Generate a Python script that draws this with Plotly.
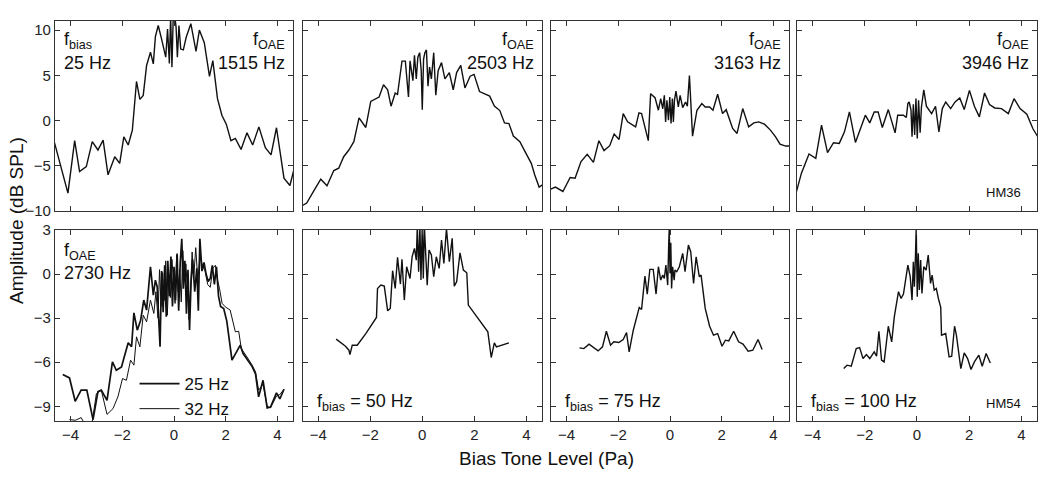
import plotly.graph_objects as go
from plotly.subplots import make_subplots

# top row: f_bias = 25 Hz, four f_OAE values
top1_x = [-4.62, -4.10, -3.84, -3.65, -3.39, -3.16, -2.94, -2.74, -2.55, -2.29,
          -2.10, -1.94, -1.77, -1.61, -1.45, -1.32, -1.19, -1.06, -0.91, -0.80,
          -0.72, -0.61, -0.48, -0.41, -0.32, -0.25, -0.18, -0.13, -0.08, -0.03,
          0.03, 0.08, 0.13, 0.19, 0.26, 0.36, 0.47, 0.65, 0.85, 0.98,
          1.17, 1.37, 1.50, 1.68, 1.85, 2.02, 2.20, 2.37, 2.59, 2.82,
          3.04, 3.28, 3.53, 3.75, 3.96, 4.25, 4.48, 4.63]
top1_y = [-2.45, -8.02, -2.23, -5.64, -5.09, -2.34, -3.26, -2.16, -6.0, -4.0,
          -4.73, -1.8, -2.71, -1.06, 4.32, 2.34, 2.78, 6.08, 7.55, 6.26,
          9.27, 10.5, 9.0, 8.1, 7.0, 10.1, 6.3, 11.5, 5.9, 11.5,
          11.5, 10.3, 7.0, 10.5, 7.9, 7.8, 9.2, 10.7, 7.65, 10.0,
          8.6, 4.87, 6.63, 2.42, 0.59, -0.40, -2.23, -1.98, -3.19, -1.36,
          -2.71, -0.70, -3.0, -3.8, -0.8, -6.37, -7.18, -5.46]

top2_x = [-4.66, -4.44, -4.18, -3.90, -3.66, -3.40, -3.21, -3.02, -2.82, -2.63,
          -2.43, -2.17, -1.98, -1.66, -1.49, -1.33, -1.20, -1.04, -0.95, -0.78,
          -0.65, -0.53, -0.47, -0.36, -0.30, -0.23, -0.17, -0.10, -0.04, 0.0,
          0.05, 0.10, 0.16, 0.22, 0.28, 0.35, 0.44, 0.52, 0.61, 0.74,
          0.87, 1.04, 1.19, 1.32, 1.48, 1.64, 1.84, 1.99, 2.20, 2.38,
          2.59, 2.77, 2.98, 3.16, 3.33, 3.50, 3.75, 3.97, 4.19, 4.32,
          4.49, 4.62]
top2_y = [-9.49, -9.12, -7.84, -6.48, -7.2, -5.53, -5.27, -4.0, -3.26, -2.34,
          0.29, -0.77, 2.12, 2.6, 3.96, 3.4, 1.58, 3.04, 2.9, 6.56,
          6.56, 2.6, 6.6, 4.4, 7.2, 4.6, 7.0, 7.5, 5.5, 1.2,
          6.8, 7.5, 7.8, 3.8, 5.9, 4.6, 7.5, 2.8, 5.5, 6.4,
          4.6, 5.3, 3.4, 5.3, 6.1, 3.6, 4.9, 5.1, 3.2, 3.0,
          2.7, 1.6, 1.1, -0.26, -0.33, -1.72, -2.34, -3.55, -4.73, -6.0,
          -7.36, -7.1]

top3_x = [-4.62, -4.43, -4.14, -3.86, -3.67, -3.44, -3.20, -2.96, -2.75, -2.55,
          -2.33, -2.16, -1.97, -1.81, -1.64, -1.33, -1.20, -1.10, -0.84, -0.75,
          -0.58, -0.45, -0.36, -0.28, -0.22, -0.17, -0.12, -0.06, -0.01, 0.04,
          0.09, 0.13, 0.17, 0.23, 0.32, 0.39, 0.49, 0.60, 0.67, 0.75,
          0.87, 1.04, 1.23, 1.36, 1.53, 1.66, 1.84, 2.03, 2.17, 2.42,
          2.59, 2.81, 3.04, 3.24, 3.43, 3.65, 3.88, 4.08, 4.25, 4.47,
          4.64]
top3_y = [-7.58, -7.36, -7.84, -6.3, -6.37, -4.54, -3.74, -4.62, -2.23, -3.33,
          -2.78, -1.5, -2.09, 0.77, -0.15, -0.7, 0.84, 0.77, -2.23, 2.97,
          2.53, 1.14, 2.42, 1.3, 2.78, -0.15, 2.23, 0.04, 2.6, -0.33,
          2.42, -0.15, 2.23, 3.26, 1.5, 2.78, 1.43, 2.05, 1.58, 4.98,
          -1.72, 1.14, 1.87, 1.5, 1.5, 1.14, 2.9, 0.77, 1.2, -0.88,
          -1.43, 1.32, -0.7, -0.26, -0.15, -0.4, -1.06, -1.8, -2.6, -2.82,
          -2.82]

top4_x = [-4.63, -4.43, -4.14, -3.88, -3.66, -3.43, -3.20, -2.98, -2.78, -2.59,
          -2.36, -2.16, -1.98, -1.81, -1.64, -1.49, -1.33, -1.10, -0.84, -0.74,
          -0.52, -0.41, -0.35, -0.30, -0.23, -0.19, -0.14, -0.09, -0.04, 0.01,
          0.06, 0.12, 0.17, 0.26, 0.36, 0.56, 0.71, 0.84, 0.97, 1.10,
          1.29, 1.46, 1.64, 1.81, 2.01, 2.20, 2.39, 2.59, 2.78, 2.98,
          3.24, 3.50, 3.72, 3.95, 4.21, 4.44, 4.63]
top4_y = [-7.95, -5.82, -3.7, -4.18, -0.51, -3.55, -2.45, -2.53, -1.25, 0.95,
          -2.42, -0.88, 0.59, -0.26, 0.95, 0.95, -0.77, 1.21, -1.36, 0.59,
          0.59, 0.33, 1.87, 2.05, 1.14, -1.8, 1.8, -1.61, 2.42, -1.98,
          2.23, -1.36, 1.5, 3.4, 1.58, 0.77, 1.58, -1.25, 1.32, 2.05,
          1.32, 2.05, 2.49, 1.21, 3.33, 1.58, 0.4, 3.04, 1.76, 1.39,
          1.32, 0.77, 2.42, 1.32, 0.7, -0.88, -1.8]

# bottom row: f_OAE = 2730 Hz, four f_bias values
bot1_25_x = [-4.30, -4.04, -3.82, -3.59, -3.37, -3.13, -2.94, -2.81, -2.59, -2.38,
             -2.23, -2.03, -1.94, -1.77, -1.64, -1.55, -1.42, -1.29, -1.17, -1.06,
             -0.91, -0.80, -0.72, -0.65, -0.54, -0.48, -0.42, -0.36, -0.30, -0.24,
             -0.18, -0.12, -0.06, 0.0, 0.06, 0.12, 0.18, 0.24, 0.30, 0.36,
             0.42, 0.48, 0.54, 0.60, 0.66, 0.72, 0.80, 0.88, 0.94, 1.00,
             1.08, 1.16, 1.24, 1.32, 1.40, 1.48, 1.56, 1.64, 1.72, 1.80,
             1.92, 2.04, 2.24, 2.56, 2.67, 2.82, 3.02, 3.15, 3.27, 3.44,
             3.60, 3.73, 3.96, 4.09, 4.25]
bot1_25_y = [-6.84, -7.07, -8.66, -7.9, -7.9, -9.9, -8.0, -7.9, -8.6, -5.98,
             -6.55, -6.32, -5.75, -4.68, -4.95, -2.64, -3.82, -3.14, -1.77, -2.45,
             0.5, -1.43, -0.41, -0.86, -4.95, 0.2, -2.6, 0.6, -2.9, 0.9,
             -1.5, 1.2, -2.2, 0.5, -1.8, 1.4, -2.5, 0.8, 2.4, -1.0,
             0.9, -2.7, 0.3, -3.8, -0.5, 1.0, -1.2, 0.4, -2.5, 2.4,
             0.2, 0.8, 0.0, -0.5, -0.3, 0.6, -0.7, 0.5, -1.5, -2.2,
             -2.34, -3.2, -5.86, -4.84, -5.41, -5.8, -6.3, -6.8, -8.36, -7.23,
             -9.11, -9.05, -8.09, -8.5, -7.84]

bot1_32_x = [-4.04, -3.81, -3.59, -3.42, -3.20, -3.00, -2.81, -2.59, -2.36, -2.17,
             -1.99, -1.84, -1.68, -1.55, -1.45, -1.32, -1.19, -1.06, -0.91, -0.78,
             -0.70, -0.62, -0.56, -0.50, -0.44, -0.38, -0.32, -0.26, -0.20, -0.14,
             -0.08, -0.02, 0.04, 0.10, 0.16, 0.22, 0.28, 0.34, 0.40, 0.46,
             0.52, 0.58, 0.64, 0.70, 0.76, 0.84, 0.92, 1.00, 1.10, 1.20,
             1.30, 1.40, 1.50, 1.60, 1.68, 1.76, 1.86, 1.98, 2.17, 2.37,
             2.50, 2.60, 2.82, 3.02, 3.15, 3.27, 3.44, 3.60, 3.73, 3.96,
             4.09, 4.25]
bot1_32_y = [-9.9, -9.95, -9.77, -10.3, -10.5, -8.14, -7.9, -9.55, -9.16, -8.36,
             -7.11, -7.23, -5.86, -6.2, -4.27, -4.95, -2.8, -3.25, -1.77, -2.68,
             -1.2, -3.0, 0.3, -2.2, 0.1, -1.8, 0.9, -2.8, -0.2, -1.6,
             1.0, -0.6, -2.0, 1.3, -1.2, 0.3, -1.9, 1.6, -0.4, 0.7,
             -1.3, -3.1, -1.0, 1.5, -0.3, 1.8, -0.5, 1.2, 0.6, 0.2,
             -0.7, -0.9, 0.4, 0.6, -0.4, -1.0, -2.0, -2.23, -2.45, -3.93,
             -3.89, -5.07, -5.64, -6.2, -6.66, -7.9, -7.5, -9.0, -9.1, -8.3,
             -8.2, -7.84]

bot2_x = [-3.31, -2.95, -2.82, -2.78, -2.69, -2.50, -2.17, -1.76, -1.72, -1.59,
          -1.46, -1.33, -1.23, -1.14, -1.04, -0.95, -0.84, -0.78, -0.69, -0.60,
          -0.47, -0.39, -0.30, -0.23, -0.19, -0.14, -0.09, -0.05, 0.0, 0.04,
          0.08, 0.13, 0.19, 0.26, 0.35, 0.44, 0.54, 0.65, 0.74, 0.83,
          0.93, 1.04, 1.15, 1.23, 1.32, 1.45, 1.58, 1.71, 1.77, 2.52,
          2.65, 2.77, 2.85, 3.33]
bot2_y = [-4.43, -4.91, -5.18, -5.48, -4.84, -4.84, -4.05, -2.95, -0.98, -0.75,
          -0.82, -2.5, -2.34, 0.23, -0.98, 1.14, -0.68, 1.0, -1.77, 0.5,
          -0.3, 1.18, 1.75, 0.95, 3.3, 0.16, 3.3, -0.41, 3.3, -0.3,
          3.3, 0.95, -0.75, 1.64, 1.3, -0.18, 1.18, 0.39, 2.32, 0.73,
          3.1, 0.84, 2.43, -0.82, -0.52, 1.45, 0.27, 0.09, -2.11, -3.93,
          -5.68, -4.68, -4.95, -4.68]

bot3_x = [-3.50, -3.33, -3.13, -2.78, -2.61, -2.46, -2.30, -2.17, -1.98, -1.81,
          -1.68, -1.58, -1.42, -1.29, -1.19, -1.10, -0.97, -0.88, -0.78, -0.65,
          -0.54, -0.45, -0.36, -0.28, -0.22, -0.16, -0.09, -0.05, -0.03, 0.0,
          0.03, 0.06, 0.10, 0.16, 0.19, 0.26, 0.36, 0.49, 0.58, 0.71,
          0.80, 0.91, 1.01, 1.13, 1.20, 1.36, 1.53, 1.68, 1.84, 2.01,
          2.14, 2.27, 2.46, 2.65, 2.82, 3.02, 3.20, 3.40, 3.56]
bot3_y = [-5.02, -5.07, -4.77, -5.23, -4.95, -3.89, -4.84, -4.61, -4.66, -4.45,
          -3.98, -5.3, -3.82, -3.02, -2.27, -2.41, -0.14, -1.36, 0.32, 0.32,
          -1.36, 0.5, -0.41, -0.07, -0.3, 0.61, -0.75, 2.09, 3.1, 0.05,
          2.14, -0.98, 0.5, -0.41, 0.27, 0.16, 0.5, 1.41, 0.16, 1.98,
          1.52, -0.64, 1.18, -0.18, -0.07, -2.34, -3.55, -4.16, -4.05, -4.91,
          -4.5, -4.55, -3.89, -4.61, -4.77, -5.25, -5.18, -4.45, -5.14]

bot4_x = [-2.81, -2.68, -2.52, -2.33, -2.20, -2.07, -1.94, -1.81, -1.64, -1.55,
          -1.46, -1.36, -1.26, -1.10, -0.97, -0.87, -0.71, -0.61, -0.52, -0.43,
          -0.35, -0.26, -0.19, -0.14, -0.10, -0.06, -0.03, 0.01, 0.05, 0.09,
          0.14, 0.19, 0.26, 0.35, 0.43, 0.52, 0.58, 0.66, 0.74, 0.82,
          0.91, 0.94, 1.10, 1.23, 1.33, 1.44, 1.51, 1.68, 1.81, 1.94,
          2.07, 2.20, 2.37, 2.50, 2.65, 2.81]
bot4_y = [-6.43, -6.2, -6.27, -5.07, -5.0, -5.75, -5.48, -5.75, -5.3, -5.59,
          -3.89, -5.86, -5.98, -3.55, -4.61, -2.91, -1.2, -1.66, -1.36, -0.23,
          0.61, -0.18, -1.77, 0.84, -0.86, 1.18, 3.2, -1.55, 1.41, -1.09,
          0.95, -1.32, 0.5, 0.27, 1.3, -0.64, -0.07, -1.09, -0.98, -1.66,
          -2.27, -4.16, -4.05, -5.64, -5.59, -3.55, -4.16, -6.43, -5.36, -5.75,
          -6.5, -5.98, -5.52, -6.27, -5.41, -6.05]

x_ticks = [-4, -2, 0, 2, 4]
top_y_ticks = [-10, -5, 0, 5, 10]
bot_y_ticks = [-9, -6, -3, 0, 3]

FONT = "Liberation Sans, Arial, sans-serif"
INK = "#111111"

fig = make_subplots(rows=2, cols=4)

single = [
    (1, 1, top1_x, top1_y), (1, 2, top2_x, top2_y),
    (1, 3, top3_x, top3_y), (1, 4, top4_x, top4_y),
    (2, 2, bot2_x, bot2_y), (2, 3, bot3_x, bot3_y), (2, 4, bot4_x, bot4_y),
]
for r, c, xs, ys in single:
    fig.add_trace(go.Scatter(x=xs, y=ys, mode="lines", showlegend=False,
                             line=dict(color=INK, width=1.4)), row=r, col=c)

fig.add_trace(go.Scatter(x=bot1_25_x, y=bot1_25_y, mode="lines", name="25 Hz",
                         line=dict(color=INK, width=1.7)), row=2, col=1)
fig.add_trace(go.Scatter(x=bot1_32_x, y=bot1_32_y, mode="lines", name="32 Hz",
                         line=dict(color=INK, width=1.0)), row=2, col=1)

x_doms = [[0.0, 0.2424], [0.2521, 0.4959], [0.5051, 0.7475], [0.7556, 1.0]]
y_doms = {1: [0.525, 1.0], 2: [0.0, 0.4775]}

axis_style = dict(showline=True, linecolor="#333333", linewidth=1.2, mirror="ticks",
                  ticks="inside", ticklen=5, tickwidth=1.1, tickcolor="#333333",
                  showgrid=False, zeroline=False,
                  tickfont=dict(family=FONT, size=15, color="#222222"))

for r in (1, 2):
    for c in range(1, 5):
        fig.update_xaxes(axis_style, domain=x_doms[c - 1], range=[-4.6, 4.6],
                         tickvals=x_ticks, showticklabels=(r == 2), row=r, col=c)
        fig.update_yaxes(axis_style, domain=y_doms[r],
                         range=[-10, 11] if r == 1 else [-10, 3],
                         tickvals=top_y_ticks if r == 1 else bot_y_ticks,
                         showticklabels=(c == 1), row=r, col=c)


def note(n, text, x, y, anchor, size=18):
    fig.add_annotation(xref=f"x{n} domain", yref=f"y{n} domain", x=x, y=y,
                       text=text, showarrow=False, xanchor=anchor, yanchor="middle",
                       font=dict(family=FONT, size=size, color=INK))


# top row labels
note("", "f<sub>bias</sub>", 0.03, 0.895, "left")
note("", "25 Hz", 0.03, 0.78, "left")
for n, hz in [("", "1515 Hz"), ("2", "2503 Hz"), ("3", "3163 Hz"), ("4", "3946 Hz")]:
    note(n, "f<sub>OAE</sub>", 0.975, 0.895, "right")
    note(n, hz, 0.975, 0.78, "right")
note("4", "HM36", 0.94, 0.095, "right", size=13)

# bottom row labels
note("5", "f<sub>OAE</sub>", 0.03, 0.885, "left")
note("5", "2730 Hz", 0.03, 0.775, "left")
for n, hz in [("6", "50 Hz"), ("7", "75 Hz"), ("8", "100 Hz")]:
    note(n, "f<sub>bias</sub> = " + hz, 0.05, 0.095, "left")
note("8", "HM54", 0.94, 0.09, "right", size=13)

fig.add_annotation(xref="paper", yref="paper", x=-0.0397, y=0.5, textangle=-90,
                   xanchor="center", yanchor="middle",
                   text="Amplitude (dB SPL)", showarrow=False,
                   font=dict(family=FONT, size=19, color=INK))
fig.add_annotation(xref="paper", yref="paper", x=0.5, y=-0.0925,
                   xanchor="center", yanchor="middle",
                   text="Bias Tone Level (Pa)", showarrow=False,
                   font=dict(family=FONT, size=19, color=INK))

fig.update_layout(
    width=1050, height=477,
    margin=dict(l=55, r=13, t=21, b=56),
    paper_bgcolor="white", plot_bgcolor="white",
    font=dict(family=FONT, color=INK),
    legend=dict(x=0.081, y=0.1375, xanchor="left", yanchor="top",
                bgcolor="rgba(0,0,0,0)", font=dict(family=FONT, size=17, color=INK),
                itemwidth=40, tracegroupgap=0),
)

# drop the browser's default 8px body margin so the figure sits at the page corner
fig.write_html("out.html", config={"displayModeBar": False},
               post_script="document.body.style.margin = '0px';")
